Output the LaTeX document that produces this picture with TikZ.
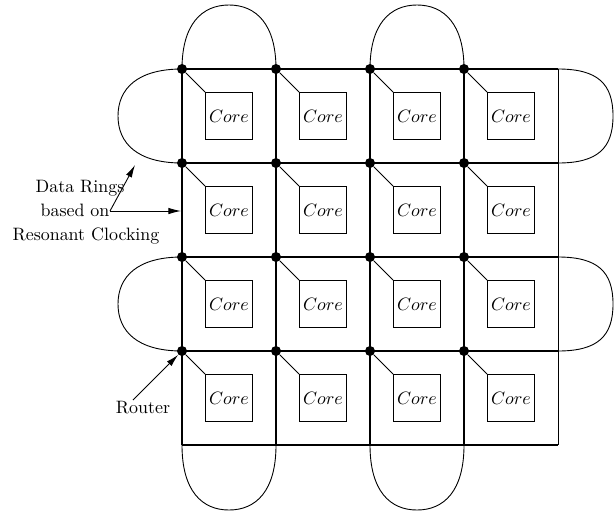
\documentclass[tikz,border=0pt]{standalone}
\usetikzlibrary{calc,arrows.meta}
\begin{document}
\begin{tikzpicture}[x=0.558pt,y=-0.558pt,
  grid/.style={line width=0.8pt},
  frame/.style={line width=0.4pt},
  edge/.style={line width=0.65pt},
  ring/.style={line width=0.5pt},
  router/.style={circle,fill,inner sep=0pt,minimum size=5.6pt},
  core/.style={draw,line width=0.4pt,minimum size=26.2pt,inner sep=0pt},
  tag/.style={anchor=base,inner sep=0pt},
  pointer/.style={line width=0.5pt,-{Latex[length=7pt,width=3.6pt]}}]
\useasboundingbox (0,0) rectangle (614,512);

% routers on a 4x4 mesh
\foreach \i in {1,...,4}{
  \foreach \j in {1,...,4}{
    \node[router] (r\i\j) at ({182+94*(\i-1)},{69+94*(\j-1)}) {};
  }
}
% outer ends of the mesh links
\foreach \j in {1,...,4}{ \coordinate (e\j) at (558,{69+94*(\j-1)}); }
\foreach \i in {1,...,4}{ \coordinate (b\i) at ({182+94*(\i-1)},445); }
\coordinate (corner) at (558,445);

% mesh links
\foreach \j in {1,...,4}{ \draw[grid] (r1\j.center) -- (e\j); }
\foreach \i in {1,...,4}{ \draw[grid] (r\i1.center) -- (b\i); }
\draw[frame] (e1) -- (corner);
\draw[edge] (b1) -- (corner);

% cores attached to routers
\foreach \i in {1,...,4}{
  \foreach \j in {1,...,4}{
    \node[core] (c\i\j) at ($(r\i\j)+(47,47)$) {$Core$};
    \draw[frame] (r\i\j) -- (c\i\j.north west);
  }
}

% data rings: top
\draw[ring] (r11.center) .. controls +(0,-45) and +(-27,0) .. ($(r11)!0.5!(r21)+(0,-64)$)
  .. controls +(27,0) and +(0,-45) .. (r21.center);
\draw[ring] (r31.center) .. controls +(0,-45) and +(-27,0) .. ($(r31)!0.5!(r41)+(0,-64)$)
  .. controls +(27,0) and +(0,-45) .. (r41.center);
% bottom
\draw[ring] (b1) .. controls +(0,46) and +(-27,0) .. ($(b1)!0.5!(b2)+(0,65)$)
  .. controls +(27,0) and +(0,46) .. (b2);
\draw[ring] (b3) .. controls +(0,46) and +(-27,0) .. ($(b3)!0.5!(b4)+(0,65)$)
  .. controls +(27,0) and +(0,46) .. (b4);
% left
\draw[ring] (r11.center) .. controls +(-45,0) and +(0,-27) .. ($(r11)!0.5!(r12)+(-64,0)$)
  .. controls +(0,27) and +(-45,0) .. (r12.center);
\draw[ring] (r13.center) .. controls +(-45,0) and +(0,-27) .. ($(r13)!0.5!(r14)+(-64,0)$)
  .. controls +(0,27) and +(-45,0) .. (r14.center);
% right
\draw[ring] (e1) .. controls +(40,0) and +(0,-32) .. ($(e1)!0.5!(e2)+(55,0)$)
  .. controls +(0,32) and +(40,0) .. (e2);
\draw[ring] (e3) .. controls +(40,0) and +(0,-32) .. ($(e3)!0.5!(e4)+(55,0)$)
  .. controls +(0,32) and +(40,0) .. (e4);

% annotations
\node[tag] (lblA) at (80,192.7) {Data Rings};
\node[tag] (lblB) at (75,216) {based on};
\node[tag] (lblC) at (86,240) {Resonant Clocking};
\node[tag] (lblR) at (143,413) {Router};

\coordinate (src) at (110,211);
\coordinate (ringtip) at (135,165);
\coordinate (linetip) at (181,211);
\coordinate (rsrc) at (133,400);
\draw[pointer] (src) -- (ringtip);
\draw[pointer] (src) -- (linetip);
\draw[pointer] (rsrc) -- (r14);
\end{tikzpicture}
\end{document}
